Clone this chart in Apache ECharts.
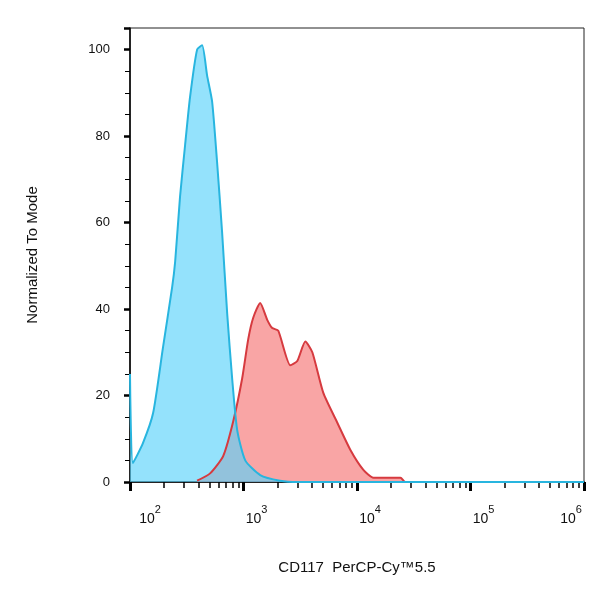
<!DOCTYPE html>
<html><head><meta charset="utf-8">
<script src="https://cdn.jsdelivr.net/npm/echarts@6/dist/echarts.min.js"></script>
<style>html,body{margin:0;padding:0;background:#fff}#c{width:600px;height:590px}</style>
</head><body><div id="c"></div>
<script>
const blueX = [100,106,130,160,195,235,250,276,306,338,390,432,478,529,585,647,718,794,880,1036,1403,2100,3000,1000000];
const blueY = [25,4.4,9,16,31,45,51,66,78,89,100,101,94,88,74,58,39,24,12,5,1.6,0.3,0,0];
const redX = [390,508,662,811,974,1100,1218,1403,1618,1791,2024,2583,2978,3505,4040,5050,6710,8750,11380,13960,24150,26700,1000000];
const redY = [0.3,2,6,14,24,33,38,41.4,37.5,35.6,35,27,28,32.5,30,20.6,13.7,7.4,2.8,1,1,0,0];
const xTitle = 'CD117  PerCP-Cy™5.5';
const yTitle = 'Normalized To Mode';
const zip = (a,b)=>a.map((v,i)=>[v,b[i]]);
const chart = echarts.init(document.getElementById('c'));
const F = 'Liberation Sans, Arial, sans-serif';
chart.setOption({
  animation:false,
  grid:{left:130,right:16,top:28,bottom:108,show:true,borderColor:'#222',borderWidth:1,outerBoundsMode:'none',containLabel:false},
  xAxis:{type:'log',min:100,max:1000000,logBase:10,
    name:xTitle,nameLocation:'middle',nameGap:78,
    nameTextStyle:{fontFamily:F,fontSize:15,color:'#111'},
    axisLine:{lineStyle:{color:'#000',width:1.5}},
    axisTick:{length:9,lineStyle:{color:'#000',width:3}},
    minorTick:{show:true,splitNumber:9,length:6,lineStyle:{color:'#000',width:1.5}},
    splitLine:{show:false},
    axisLabel:{margin:22,align:'center',fontFamily:F,showMaxLabel:true,hideOverlap:false,
      formatter:v=>{const e=Math.round(Math.log10(v));return e===6?'{b|10}{t|6}':(e===2?'{a|10}{s|2}':'{c|10}{s|'+e+'}');},
      rich:{a:{fontSize:14,color:'#111',fontFamily:F,padding:[8,0,0,40]},
            c:{fontSize:14,color:'#111',fontFamily:F,padding:[8,0,0,26]},
            b:{fontSize:14,color:'#111',fontFamily:F,padding:[8,0,0,0]},
            s:{fontSize:11,color:'#111',fontFamily:F,verticalAlign:'top',padding:[0,0,8,0]},
            t:{fontSize:11,color:'#111',fontFamily:F,verticalAlign:'top',padding:[0,26,8,0]}}}
  },
  yAxis:{type:'value',min:0,max:105,interval:20,
    name:yTitle,nameLocation:'middle',nameGap:90,nameRotate:90,
    nameTextStyle:{fontFamily:F,fontSize:15,color:'#111'},
    axisLine:{show:true,lineStyle:{color:'#000',width:1.5}},
    axisTick:{length:6,lineStyle:{color:'#000',width:2.5}},
    minorTick:{show:true,splitNumber:4,length:5,lineStyle:{color:'#000',width:1}},
    splitLine:{show:false},
    axisLabel:{margin:20,fontFamily:F,fontSize:13,color:'#111',
      formatter:v=>v>100?'':String(v)}
  },
  series:[
    {type:'line',data:zip(redX,redY),symbol:'none',smooth:0.2,
     lineStyle:{color:'#d63a3f',width:2},areaStyle:{color:'rgba(245,110,110,0.62)',opacity:1}},
    {type:'line',data:zip(blueX,blueY),symbol:'none',smooth:0.2,
     lineStyle:{color:'#28b5df',width:2},areaStyle:{color:'rgba(90,210,250,0.65)',opacity:1}}
  ]
});
</script></body></html>
